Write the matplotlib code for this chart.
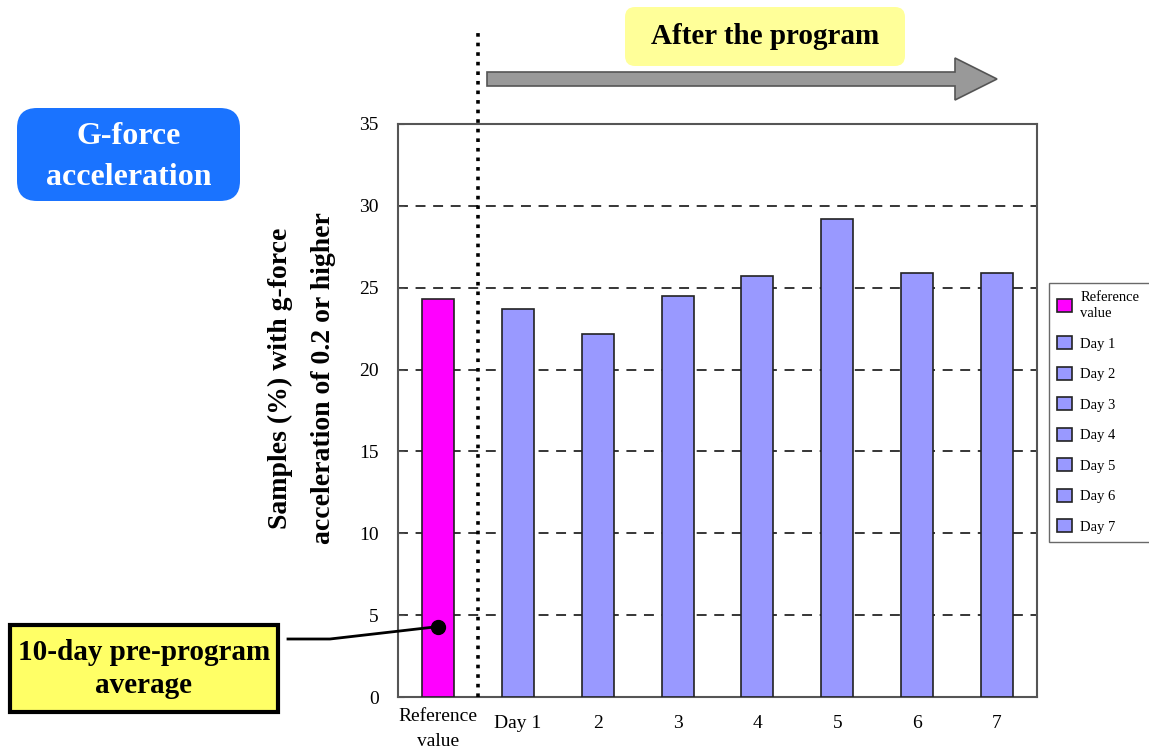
import matplotlib
matplotlib.use("Agg")
import matplotlib.pyplot as plt
from matplotlib.patches import FancyBboxPatch, Polygon
from matplotlib.lines import Line2D
from matplotlib.transforms import ScaledTranslation

plt.rcParams['font.family'] = ['Liberation Serif', 'DejaVu Serif']

# 値 (%)
categories = ["Reference\nvalue", "Day 1", "2", "3", "4", "5", "6", "7"]
values = [24.3, 23.7, 22.2, 24.5, 25.7, 29.2, 25.9, 25.9]
legend_labels = ["Reference\nvalue", "Day 1", "Day 2", "Day 3", "Day 4",
                 "Day 5", "Day 6", "Day 7"]
bar_colors = ["#ff00ff"] + ["#9999ff"] * 7
y_ticks = [0, 5, 10, 15, 20, 25, 30, 35]
marker_value = 4.3  # 事前10日平均の目印

W, H = 1149, 749
fig = plt.figure(figsize=(W / 100, H / 100), dpi=100)
ax = fig.add_axes([398 / W, (H - 697) / H, 639 / W, 573 / H])


def inch(x, y):
    """画像ピクセル座標 -> インチ座標"""
    return x / 100, (H - y) / 100


def box(x0, y0, x1, y1, **kw):
    bx, by = inch(x0, y1)
    p = FancyBboxPatch((bx, by), (x1 - x0) / 100, (y1 - y0) / 100,
                       transform=fig.dpi_scale_trans, **kw)
    fig.add_artist(p)
    return p


# 棒グラフ
xs = range(len(values))
bars = ax.bar(xs, values, width=0.4, color=bar_colors,
              edgecolor="#222222", linewidth=1.2, zorder=3)

ax.set_xlim(-0.5, len(values) - 0.5)
ax.set_ylim(0, 35)
ax.set_yticks(y_ticks)
ax.set_xticks(list(xs))
ax.set_xticklabels(categories, fontsize=14, linespacing=1.6)
ax.tick_params(axis='y', labelsize=14, direction='in', length=4, pad=14,
               color="#555555")
ax.tick_params(axis='x', length=0, pad=8)
# Day ラベルは少し下げる
for lbl in ax.get_xticklabels()[1:]:
    lbl.set_transform(lbl.get_transform() +
                      ScaledTranslation(0, -0.07, fig.dpi_scale_trans))
for s in ax.spines.values():
    s.set_color("#555555")
    s.set_linewidth(1.5)

ax.grid(axis='y', color='black', linestyle=(0, (6.5, 5)), linewidth=1.1,
        zorder=0)
ax.set_axisbelow(True)

ax.set_ylabel("Samples (%) with g-force\nacceleration of 0.2 or higher",
              fontsize=20, fontweight='bold', linespacing=1.95)
ax.yaxis.set_label_coords(-0.097, 0.557)

# 区切り線 (点線)
ax.axvline(0.5, ymin=0, ymax=(697 - 30) / 573, color='black',
           linestyle=':', linewidth=2.6, clip_on=False, zorder=4)

# 凡例 (右端は図の外へはみ出す)
leg = fig.legend(bars.patches, legend_labels, loc='upper left',
                 bbox_to_anchor=(1049 / W, 1 - 283 / H, 120 / W, 0),
                 mode='expand', borderaxespad=0,
                 fontsize=10.5, frameon=True, fancybox=False,
                 edgecolor="#444444", handlelength=1.0, handleheight=1.0,
                 handletextpad=0.6, labelspacing=1.1, borderpad=0.55)
leg.get_frame().set_linewidth(1.0)
for t in leg.get_texts():
    t.set_linespacing(1.3)

# 左上の見出し
box(17, 108, 240, 201, boxstyle="round,pad=0,rounding_size=0.2",
    facecolor="#1a73ff", edgecolor="none")
fig.text(128.5 / W, 1 - 157 / H, "G-force\nacceleration", color='white',
         fontsize=23, fontweight='bold', ha='center', va='center',
         linespacing=1.55)

# 上部の見出しと矢印
box(625, 7, 905, 66, boxstyle="round,pad=0,rounding_size=0.1",
    facecolor="#ffff99", edgecolor="none")
fig.text(765 / W, 1 - 36 / H, "After the program", fontsize=21,
         fontweight='bold', ha='center', va='center')

arrow_pts = [(487, 72), (955, 72), (955, 58), (997, 79), (955, 100),
             (955, 86), (487, 86)]
arrow = Polygon([inch(x, y) for x, y in arrow_pts], closed=True,
                transform=fig.dpi_scale_trans, facecolor="#999999",
                edgecolor="#555555", linewidth=1.2)
fig.add_artist(arrow)

# 注記ボックス
box(10, 625, 278, 712, boxstyle="square,pad=0", facecolor="#ffff66",
    edgecolor='black', linewidth=3)
fig.text(144 / W, 1 - 669 / H, "10-day pre-program\naverage", fontsize=21,
         fontweight='bold', ha='center', va='center', linespacing=1.3)

ax.plot([0], [marker_value], 'o', color='black', markersize=10, zorder=5)
dot_x, dot_y = ax.transData.transform((0, marker_value))
leader = Line2D([2.88, 3.30, dot_x / fig.dpi], [(H - 639) / 100,
                (H - 639) / 100, dot_y / fig.dpi],
                transform=fig.dpi_scale_trans, color='black', linewidth=2)
fig.add_artist(leader)

fig.savefig("out.png", dpi=100)
